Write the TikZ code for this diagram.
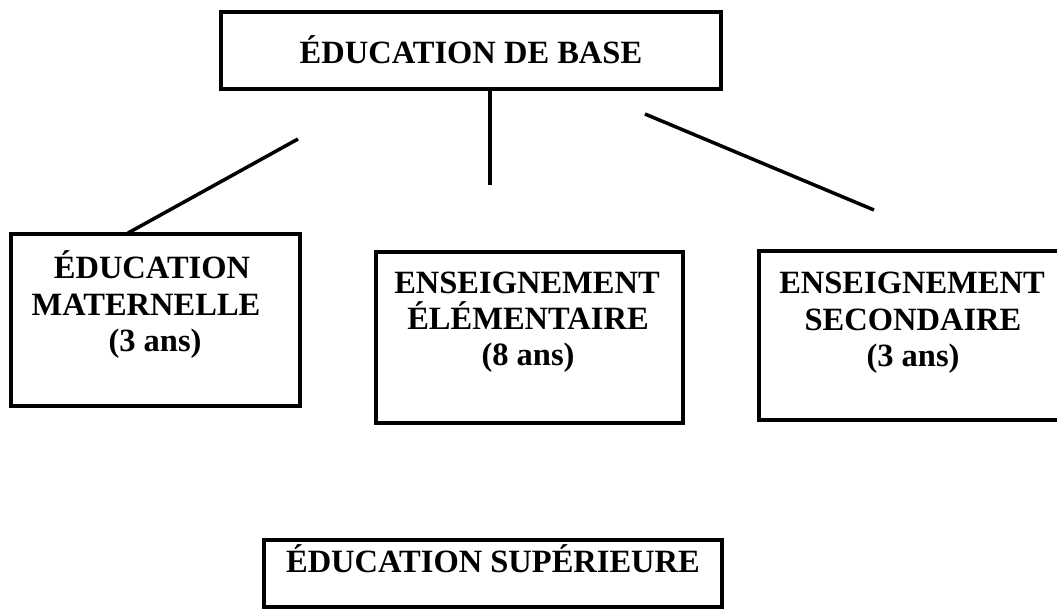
\documentclass[tikz,border=0pt]{standalone}
\usepackage{fontspec}
\setmainfont{Liberation Serif}
\begin{document}
\begin{tikzpicture}[x=1pt,y=-1pt,
  box/.style={draw, line width=3.5pt, inner sep=0pt},
  lbl/.style={font=\fontsize{32.5}{37}\selectfont\bfseries, inner sep=0pt, anchor=base},
  conn/.style={line width=3.5pt}]
\useasboundingbox (0,0) rectangle (1057,611);
% boxes
\node[box, minimum width=500pt, minimum height=77pt] (base) at (471,50.5) {};
\node[box, minimum width=289pt, minimum height=172pt] (mat) at (155.5,320) {};
\node[box, minimum width=307pt, minimum height=171pt] (elem) at (529.5,337.5) {};
\node[box, minimum width=307pt, minimum height=169pt] (sec) at (912.5,335.5) {};
\node[box, minimum width=458pt, minimum height=67pt] (sup) at (493,573.5) {};
% texts
\node[lbl] (baseT) at (471,63) {ÉDUCATION DE BASE};
\node[lbl] (matT1) at (152,278) {ÉDUCATION};
\node[lbl] (matT2) at (146,315) {MATERNELLE};
\node[lbl] (matT3) at (155,351) {(3 ans)};
\node[lbl] (elemT1) at (527,293) {ENSEIGNEMENT};
\node[lbl] (elemT2) at (528,329) {ÉLÉMENTAIRE};
\node[lbl] (elemT3) at (528,365) {(8 ans)};
\node[lbl] (secT1) at (912,293) {ENSEIGNEMENT};
\node[lbl] (secT2) at (913,330) {SECONDAIRE};
\node[lbl] (secT3) at (913,366) {(3 ans)};
\node[lbl] (supT) at (493,572) {ÉDUCATION SUPÉRIEURE};
% connectors (free-standing)
\coordinate (c1a) at (298,139);
\coordinate (c1b) at (128,233);
\coordinate (c2a) at (490,91);
\coordinate (c2b) at (490,185);
\coordinate (c3a) at (645,114);
\coordinate (c3b) at (874,210);
\draw[conn] (c1a) -- (c1b);
\draw[conn] (c2a) -- (c2b);
\draw[conn] (c3a) -- (c3b);
\end{tikzpicture}
\end{document}
